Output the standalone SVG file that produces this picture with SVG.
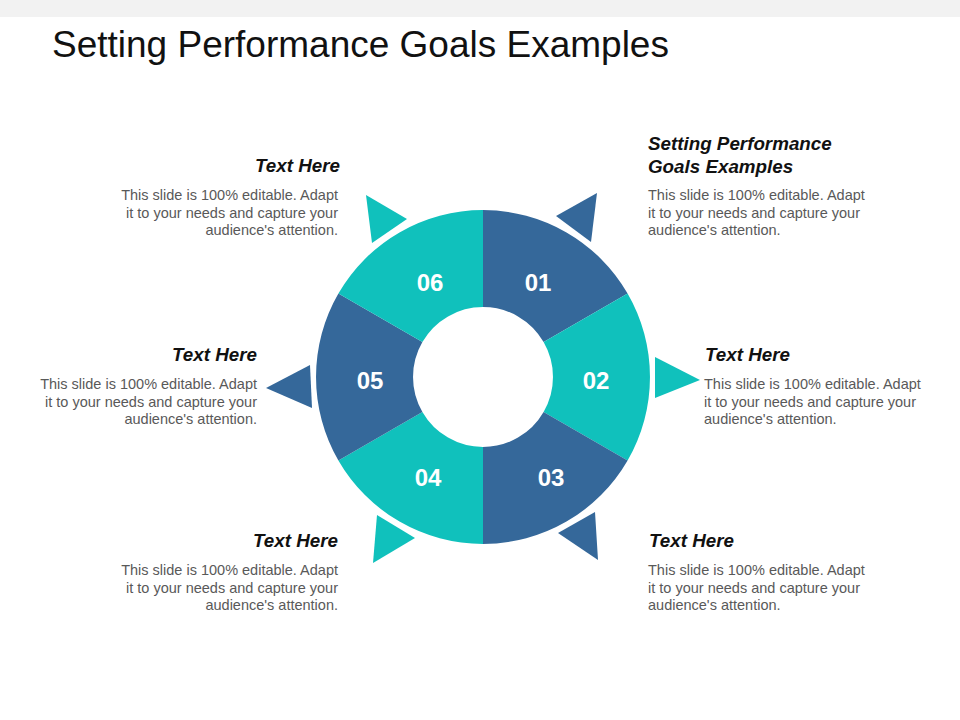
<svg xmlns="http://www.w3.org/2000/svg" width="960" height="720" viewBox="0 0 960 720">
<style>
.d{fill:#35689a}.t{fill:#10c1bc}
.n{font-family:"Liberation Sans",Arial,sans-serif;font-weight:bold;font-size:24px;fill:#fff;text-anchor:middle}
.h{font-family:"Liberation Sans",Arial,sans-serif;font-weight:bold;font-style:italic;font-size:18.8px;fill:#111}
.b{font-family:"Liberation Sans",Arial,sans-serif;font-size:14.5px;fill:#595959}
.r{text-anchor:end}
</style>
<rect width="960" height="720" fill="#fff"/>
<rect width="960" height="17" fill="#f2f2f2"/>
<text x="52" y="57" font-family="Liberation Sans,Arial,sans-serif" font-size="37" fill="#111">Setting Performance Goals Examples</text>
<g id="seg01"><path class="d" d="M483,210 A167,167 0 0 1 627.6,293.5 L543.6,342 A70,70 0 0 0 483,307 Z"/><text class="n" x="538" y="291">01</text></g>
<g id="seg02"><path class="t" d="M627.6,293.5 A167,167 0 0 1 627.6,460.5 L543.6,412 A70,70 0 0 0 543.6,342 Z"/><text class="n" x="596" y="389">02</text></g>
<g id="seg03"><path class="d" d="M627.6,460.5 A167,167 0 0 1 483,544 L483,447 A70,70 0 0 0 543.6,412 Z"/><text class="n" x="551" y="486">03</text></g>
<g id="seg04"><path class="t" d="M483,544 A167,167 0 0 1 338.4,460.5 L422.4,412 A70,70 0 0 0 483,447 Z"/><text class="n" x="428" y="486">04</text></g>
<g id="seg05"><path class="d" d="M338.4,460.5 A167,167 0 0 1 338.4,293.5 L422.4,342 A70,70 0 0 0 422.4,412 Z"/><text class="n" x="370" y="389">05</text></g>
<g id="seg06"><path class="t" d="M338.4,293.5 A167,167 0 0 1 483,210 L483,307 A70,70 0 0 0 422.4,342 Z"/><text class="n" x="430" y="291">06</text></g>
<g id="pointers">
<polygon class="d" points="597,193 591,242 556,216"/>
<polygon class="t" points="655,357 655,398 700,380"/>
<polygon class="d" points="595,512 598,560 558,533"/>
<polygon class="t" points="377,515 373,563 415,538"/>
<polygon class="d" points="310,365 312,408 266,388"/>
<polygon class="t" points="366,195 372,243 407,219"/>
</g>
<g id="txt-tr"><text class="h" x="648" y="150">Setting Performance</text><text class="h" x="648" y="173">Goals Examples</text>
<text class="b" x="648" y="200">This slide is 100% editable. Adapt</text><text class="b" x="648" y="218">it to your needs and capture your</text><text class="b" x="648" y="235">audience's attention.</text></g>
<g id="txt-r"><text class="h" x="705" y="361">Text Here</text>
<text class="b" x="704" y="389">This slide is 100% editable. Adapt</text><text class="b" x="704" y="407">it to your needs and capture your</text><text class="b" x="704" y="424">audience's attention.</text></g>
<g id="txt-br"><text class="h" x="649" y="547">Text Here</text>
<text class="b" x="648" y="575">This slide is 100% editable. Adapt</text><text class="b" x="648" y="593">it to your needs and capture your</text><text class="b" x="648" y="610">audience's attention.</text></g>
<g id="txt-tl"><text class="h r" x="340" y="172">Text Here</text>
<text class="b r" x="338" y="200">This slide is 100% editable. Adapt</text><text class="b r" x="338" y="218">it to your needs and capture your</text><text class="b r" x="338" y="235">audience's attention.</text></g>
<g id="txt-l"><text class="h r" x="257" y="361">Text Here</text>
<text class="b r" x="257" y="389">This slide is 100% editable. Adapt</text><text class="b r" x="257" y="407">it to your needs and capture your</text><text class="b r" x="257" y="424">audience's attention.</text></g>
<g id="txt-bl"><text class="h r" x="338" y="547">Text Here</text>
<text class="b r" x="338" y="575">This slide is 100% editable. Adapt</text><text class="b r" x="338" y="593">it to your needs and capture your</text><text class="b r" x="338" y="610">audience's attention.</text></g>
</svg>
